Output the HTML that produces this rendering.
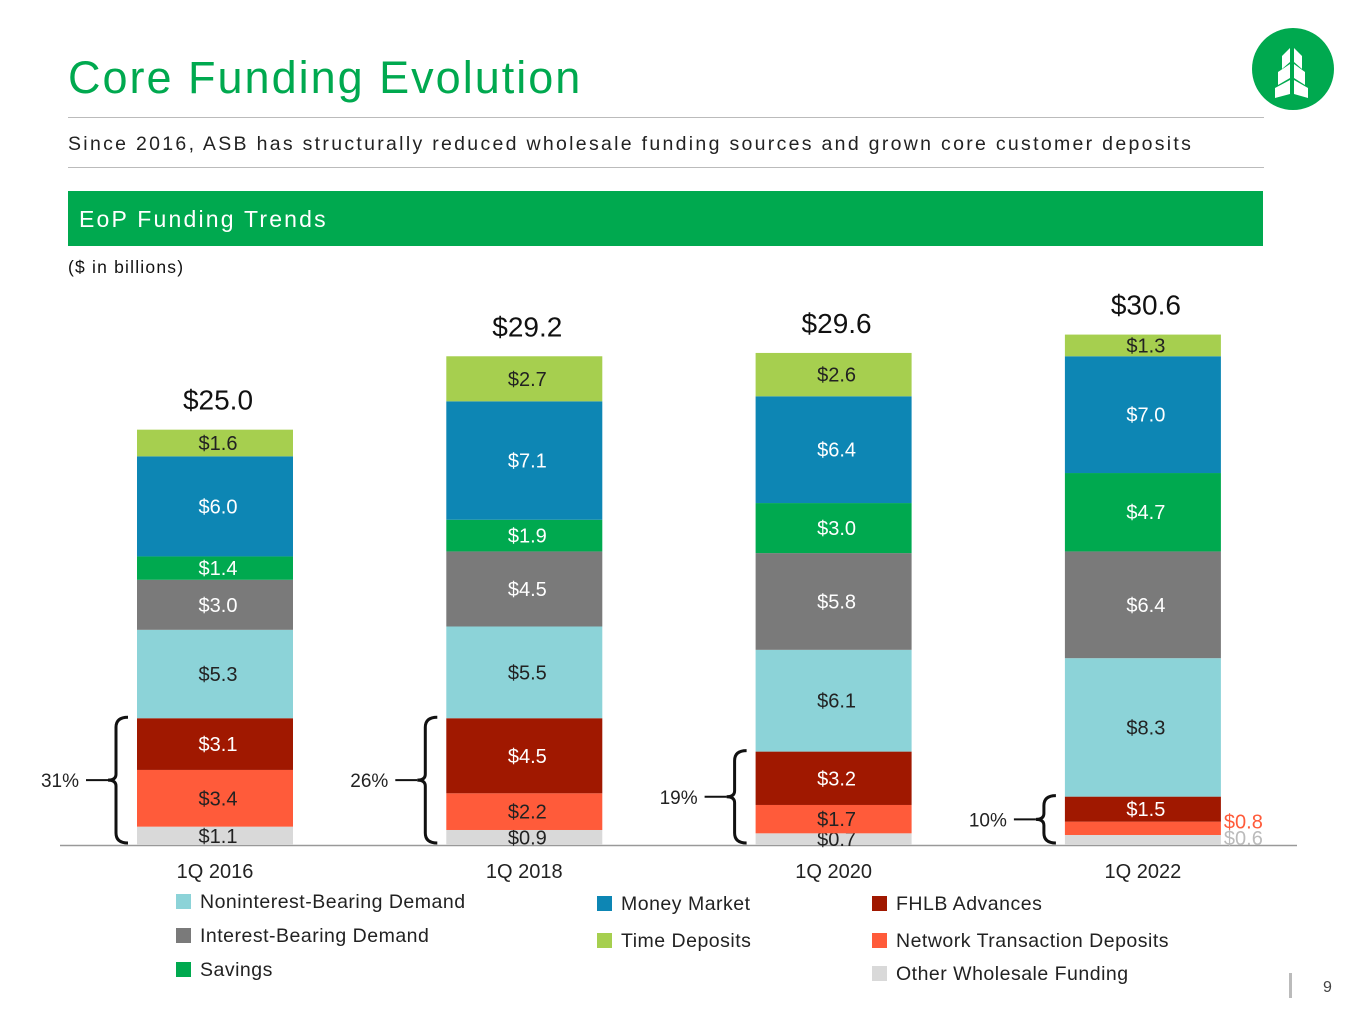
<!DOCTYPE html>
<html><head><meta charset="utf-8">
<style>
body{margin:0;width:1365px;height:1024px;background:#fff;font-family:"Liberation Sans",sans-serif;position:relative;overflow:hidden}
.abs{position:absolute}
</style></head><body>
<div class="abs" style="left:68px;top:52px;font-size:45px;color:#00a94f;letter-spacing:2px">Core Funding Evolution</div>
<svg class="abs" style="left:1250px;top:26px" width="86" height="86" viewBox="0 0 86 86">
<circle cx="43" cy="43" r="41" fill="#00a94f"/>
<g fill="#fff">
<polygon points="40,22 40,36 32,43 32,30"/>
<polygon points="44,22 44,36 52,43 52,30"/>
<polygon points="40,38 40,52 28,59 28,46"/>
<polygon points="44,38 44,52 55,59 55,46"/>
<polygon points="40,54 40,68 25,72 25,62"/>
<polygon points="44,54 44,68 58,72 58,62"/>
</g></svg>
<div class="abs" style="left:68px;top:117px;width:1196px;height:1px;background:#bbb"></div>
<div class="abs" style="left:68px;top:133px;font-size:19.5px;color:#222;letter-spacing:2.3px;white-space:nowrap">Since 2016, ASB has structurally reduced wholesale funding sources and grown core customer deposits</div>
<div class="abs" style="left:68px;top:167px;width:1196px;height:1px;background:#bbb"></div>
<div class="abs" style="left:68px;top:191px;width:1195px;height:55px;background:#00a94f"></div>
<div class="abs" style="left:79px;top:206px;font-size:23px;color:#fff;letter-spacing:2.2px">EoP Funding Trends</div>
<div class="abs" style="left:68px;top:257px;font-size:17.5px;color:#111;letter-spacing:1.2px">($ in billions)</div>
<svg id="chart" class="abs" style="left:0;top:0" width="1365" height="1024"></svg>
<div class="abs" style="left:1289px;top:973px;width:3px;height:25px;background:#bbb"></div>
<div class="abs" style="left:1323px;top:979px;font-size:16px;color:#444">9</div>
<script>
const categories=["1Q 2016","1Q 2018","1Q 2020","1Q 2022"];
const totals=["$25.0","$29.2","$29.6","$30.6"];
const seriesNames=["Other Wholesale Funding","Network Transaction Deposits","FHLB Advances","Noninterest-Bearing Demand","Interest-Bearing Demand","Savings","Money Market","Time Deposits"];
const otherWholesale=[1.1,0.9,0.7,0.6];
const networkTx=[3.4,2.2,1.7,0.8];
const fhlb=[3.1,4.5,3.2,1.5];
const nibDemand=[5.3,5.5,6.1,8.3];
const ibDemand=[3.0,4.5,5.8,6.4];
const savings=[1.4,1.9,3.0,4.7];
const moneyMarket=[6.0,7.1,6.4,7.0];
const timeDeposits=[1.6,2.7,2.6,1.3];
const wholesalePct=["31%","26%","19%","10%"];
const series=[otherWholesale,networkTx,fhlb,nibDemand,ibDemand,savings,moneyMarket,timeDeposits];
const colors=["#d9d9d9","#ff5b3a","#a01800","#8cd3d8","#7a7a7a","#00a94f","#0d86b4","#a6cf4f"];
const labelColors=["#222","#222","#fff","#222","#fff","#fff","#fff","#222"];
const ns="http://www.w3.org/2000/svg";
const svg=document.getElementById('chart');
const baseY=845, pxPer=16.68, barW=156;
const xPos=i=>137+i*309.3;
const yOf=v=>baseY-v*pxPer;
function mk(t,a){const e=document.createElementNS(ns,t);for(const k in a)e.setAttribute(k,a[k]);svg.appendChild(e);return e;}
const axis=mk('line',{x1:60,x2:1297,y1:baseY+0.5,y2:baseY+0.5,stroke:'#999','stroke-width':1.5});


categories.forEach((c,i)=>{
  let cum=0;const x=xPos(i);
  series.forEach((s,k)=>{
    const v=s[i];const y0=yOf(cum),y1=yOf(cum+v);
    const r=mk('rect',{x:x,y:y1,width:barW,height:y0-y1,fill:colors[k]});
    
    
    const outside=(i===3&&k<2);
    const dy=outside?(k===1?-7:-2):0;
    const t=mk('text',{x:outside?x+barW+3:x+barW/2+3,y:(y0+y1)/2+7+dy,'text-anchor':outside?'start':'middle','font-size':20,fill:outside?(k===0?'#bbb':'#ff5b3a'):labelColors[k],'font-family':'Liberation Sans'});
    t.textContent='$'+v.toFixed(1);
    
    
    cum+=v;
  });
  const tt=mk('text',{x:x+barW/2+3,y:yOf(cum)-20,'text-anchor':'middle','font-size':28,fill:'#111'});
  tt.textContent=totals[i];
  
  
  const cl=mk('text',{x:x+barW/2,y:878,'text-anchor':'middle','font-size':20,fill:'#222'});
  cl.textContent=c;
  
  
  const w=otherWholesale[i]+networkTx[i]+fhlb[i];
  const top=yOf(w)-1,bot=baseY-2,mid=(top+bot)/2,bx=x-29;
  const p=mk('path',{d:`M${bx+20},${top} Q${bx+8},${top} ${bx+8},${top+10} L${bx+8},${mid-6} Q${bx+8},${mid} ${bx},${mid} Q${bx+8},${mid} ${bx+8},${mid+6} L${bx+8},${bot-10} Q${bx+8},${bot} ${bx+20},${bot}`,fill:'none',stroke:'#111','stroke-width':3});
  
  
  mk('line',{x1:bx-22,x2:bx,y1:mid,y2:mid,stroke:'#111','stroke-width':2});
  const pt=mk('text',{x:bx-29,y:mid+7,'text-anchor':'end','font-size':19,fill:'#222'});
  pt.textContent=wholesalePct[i];
  
  
});
const legend=[[3,176,902],[4,176,936],[5,176,970],[6,597,904],[7,597,941],[2,872,904],[1,872,941],[0,872,974]];
legend.forEach(([k,x,y])=>{
  const r=mk('rect',{x:x,y:y-8,width:15,height:15,fill:colors[k]});
  
  
  const t=mk('text',{x:x+24,y:y+6,'font-size':19.5,fill:'#222','letter-spacing':0.5});
  t.textContent=seriesNames[k];
  
  
});
</script>
</body></html>
